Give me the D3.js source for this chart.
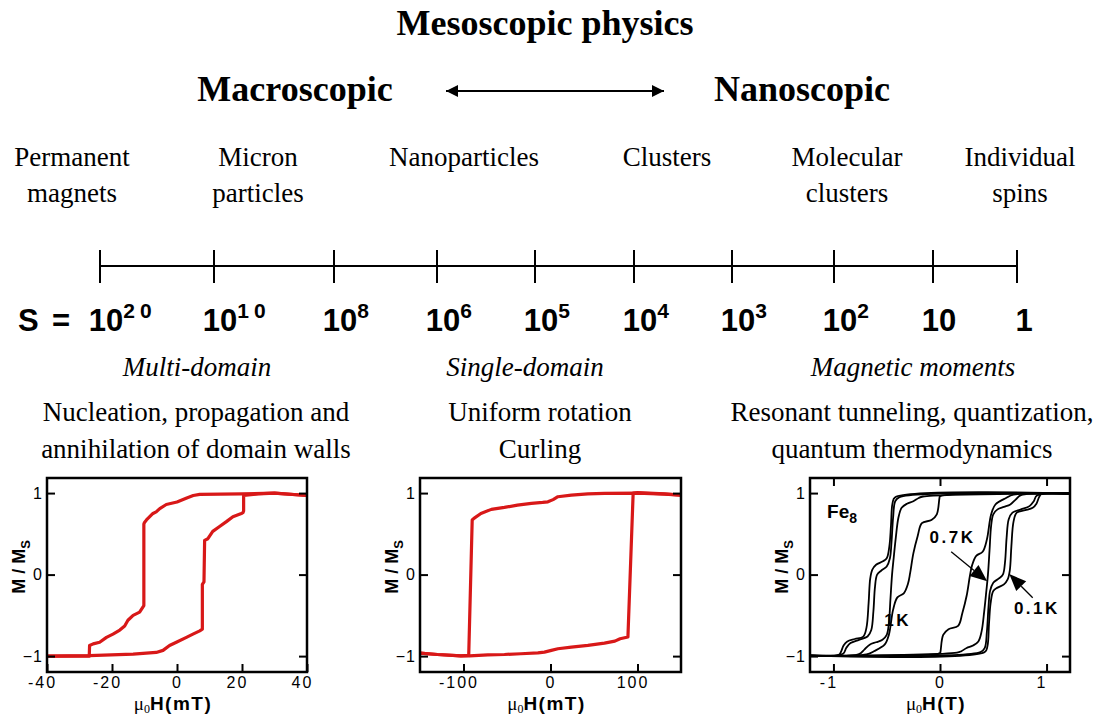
<!DOCTYPE html>
<html><head><meta charset="utf-8">
<script src="https://cdn.jsdelivr.net/npm/d3@7"></script>
<style>
body{margin:0;background:#fff;}
svg{display:block;}
</style></head><body>
<svg id="c" width="1101" height="716"></svg>
<script>
// ---------------- DATA ----------------
const titleText = "Mesoscopic physics";
const leftHeading = "Macroscopic";
const rightHeading = "Nanoscopic";
const systemLabels = [["Permanent","magnets"],["Micron","particles"],["Nanoparticles"],["Clusters"],["Molecular","clusters"],["Individual","spins"]];
const spinBase = ["10","10","10","10","10","10","10","10","10","1"];
const spinExp  = ["20","10","8","6","5","4","3","2","",""];
const regimeLabels = ["Multi-domain","Single-domain","Magnetic moments"];
const mechanismLines = [["Nucleation, propagation and","annihilation of domain walls"],["Uniform rotation","Curling"],["Resonant tunneling, quantization,","quantum thermodynamics"]];

// Panel 1: multi-domain loop (mu0H in mT, M/Ms)
const multiDown = [[40,0.97],[30,1.0],[20,0.99],[7,0.985],[5,0.97],[3,0.94],[0,0.89],[-3.3,0.86],[-5.3,0.81],[-6.4,0.77],[-7.4,0.75],[-8.4,0.71],[-9.4,0.67],[-10.0,0.64],[-10.2,0.62],[-10.2,-0.38],[-11.5,-0.46],[-13.5,-0.5],[-15.1,-0.56],[-16.1,-0.63],[-17.6,-0.68],[-19.7,-0.73],[-21.7,-0.77],[-23.8,-0.83],[-25.8,-0.85],[-26.9,-0.87],[-27.0,-1.0],[-34,-1.0],[-40,-1.0]];
const multiUp = [[-40,-1.0],[-27,-0.995],[-13.5,-0.975],[-6.4,-0.955],[-4.3,-0.93],[-2.3,-0.87],[-0.2,-0.83],[2.9,-0.77],[4.9,-0.73],[7,-0.69],[7.8,-0.67],[7.8,-0.12],[8.3,-0.09],[8.5,0.42],[9.5,0.44],[11,0.53],[13.1,0.59],[15.2,0.65],[17.2,0.71],[19.8,0.75],[20.3,0.76],[20.5,0.78],[20.5,0.97],[25,0.99],[30,1.0],[40,0.97]];

// Panel 2: single-domain loop (mT)
const singleDown = [[150,0.975],[131,0.988],[100,1.0],[62,0.996],[43,0.99],[24,0.975],[8.5,0.955],[3,0.92],[-3,0.893],[-9,0.885],[-22,0.873],[-38,0.852],[-53,0.824],[-68,0.8],[-80,0.75],[-88,0.69],[-90,0.67],[-94,-0.99],[-103,-0.996],[-130,-0.98],[-150,-0.963]];
const singleUp = [[-150,-0.963],[-130,-0.98],[-103,-0.996],[-93,-0.996],[-72,-0.984],[-53,-0.98],[-34,-0.971],[-14.5,-0.96],[-7,-0.951],[1,-0.93],[8.5,-0.91],[24,-0.889],[43,-0.869],[62,-0.84],[74,-0.816],[80,-0.787],[89,-0.766],[95,1.0],[100,1.005],[131,0.99],[150,0.975]];

// Panel 3: Fe8 loops (mu0H in T)
const fe8_1K_up = [[-1.22,-0.995],[0.0,-0.962],[0.005,-0.94],[0.03,-0.74],[0.08,-0.67],[0.17,-0.63],[0.21,-0.47],[0.25,-0.26],[0.28,-0.02],[0.30,0.11],[0.34,0.23],[0.40,0.28],[0.44,0.43],[0.48,0.74],[0.52,0.86],[0.62,0.94],[0.69,0.98],[1.22,0.995]];
const fe8_1K_down = [[1.22,0.995],[0.0,0.962],[-0.005,0.94],[-0.03,0.74],[-0.08,0.67],[-0.17,0.63],[-0.21,0.47],[-0.25,0.26],[-0.28,0.02],[-0.30,-0.11],[-0.34,-0.23],[-0.40,-0.28],[-0.44,-0.43],[-0.48,-0.74],[-0.52,-0.86],[-0.62,-0.94],[-0.69,-0.98],[-1.22,-0.995]];
const fe8_07K_up = [[-1.22,-0.995],[0.16,-0.958],[0.2,-0.94],[0.25,-0.9],[0.31,-0.87],[0.36,-0.82],[0.39,-0.7],[0.415,-0.45],[0.435,-0.2],[0.45,0.0],[0.465,0.3],[0.48,0.6],[0.5,0.74],[0.54,0.8],[0.6,0.83],[0.66,0.86],[0.71,0.92],[0.76,0.975],[1.22,0.995]];
const fe8_07K_down = [[1.22,0.995],[-0.16,0.958],[-0.2,0.94],[-0.25,0.9],[-0.31,0.87],[-0.36,0.82],[-0.39,0.7],[-0.415,0.45],[-0.435,0.2],[-0.45,0.0],[-0.465,-0.3],[-0.48,-0.6],[-0.5,-0.74],[-0.54,-0.8],[-0.6,-0.83],[-0.66,-0.86],[-0.71,-0.92],[-0.76,-0.975],[-1.22,-0.995]];
const fe8_mid_up = [[-1.22,-0.995],[0.38,-0.951],[0.42,-0.9],[0.44,-0.7],[0.455,-0.4],[0.47,-0.2],[0.5,-0.1],[0.55,-0.05],[0.59,0.0],[0.61,0.15],[0.625,0.45],[0.645,0.68],[0.68,0.76],[0.76,0.8],[0.84,0.84],[0.88,0.9],[0.91,0.97],[1.22,0.995]];
const fe8_mid_down = [[1.22,0.995],[-0.38,0.951],[-0.42,0.9],[-0.44,0.7],[-0.455,0.4],[-0.47,0.2],[-0.5,0.1],[-0.55,0.05],[-0.59,0.0],[-0.61,-0.15],[-0.625,-0.45],[-0.645,-0.68],[-0.68,-0.76],[-0.76,-0.8],[-0.84,-0.84],[-0.88,-0.9],[-0.91,-0.97],[-1.22,-0.995]];
const fe8_01K_up = [[-1.22,-0.995],[0.42,-0.95],[0.445,-0.88],[0.46,-0.6],[0.475,-0.35],[0.5,-0.2],[0.54,-0.16],[0.6,-0.12],[0.635,-0.06],[0.655,0.05],[0.67,0.35],[0.69,0.65],[0.72,0.76],[0.8,0.79],[0.87,0.82],[0.905,0.87],[0.93,0.95],[0.95,0.985],[1.22,0.995]];
const fe8_01K_down = [[1.22,0.995],[-0.42,0.95],[-0.445,0.88],[-0.46,0.6],[-0.475,0.35],[-0.5,0.2],[-0.54,0.16],[-0.6,0.12],[-0.635,0.06],[-0.655,-0.05],[-0.67,-0.35],[-0.69,-0.65],[-0.72,-0.76],[-0.8,-0.79],[-0.87,-0.82],[-0.905,-0.87],[-0.93,-0.95],[-0.95,-0.985],[-1.22,-0.995]];

const yTickValues = [-1,0,1];
const panel1XTicks = [-40,-20,0,20,40];
const panel2XTicks = [-100,0,100];
const panel3XTicks = [-1,0,1];

// ---------------- LAYOUT ----------------
const SERIF = "'Liberation Serif','Times New Roman',serif";
const SANS = "'Liberation Sans',Arial,Helvetica,sans-serif";
const svg = d3.select("#c");
const L = {
  systemX: [72,258,464,667,847,1020],
  spinTickX: [100,214,334,437,535,634,732,834,933,1017],
  regimeX: [197,525,913],
  mechX: [196,540,912],
  plotTop: 478, plotBottom: 672
};

// Title & headings
svg.append("text").attr("x",545).attr("y",35).attr("text-anchor","middle")
  .attr("font-family",SERIF).attr("font-weight","bold").attr("font-size",36).text(titleText);
svg.append("text").attr("x",295).attr("y",101).attr("text-anchor","middle")
  .attr("font-family",SERIF).attr("font-weight","bold").attr("font-size",36).text(leftHeading);
svg.append("text").attr("x",802).attr("y",101).attr("text-anchor","middle")
  .attr("font-family",SERIF).attr("font-weight","bold").attr("font-size",36).text(rightHeading);

// double arrow
const defs = svg.append("defs");
defs.append("marker").attr("id","ah").attr("viewBox","0 0 10 10").attr("refX",10).attr("refY",5)
  .attr("markerWidth",7).attr("markerHeight",6).attr("markerUnits","strokeWidth").attr("orient","auto-start-reverse")
  .append("path").attr("d","M0,0 L10,5 L0,10 z").attr("fill","#000");
svg.append("line").attr("x1",446).attr("x2",664).attr("y1",91).attr("y2",91)
  .attr("stroke","#000").attr("stroke-width",2).attr("marker-start","url(#ah)").attr("marker-end","url(#ah)");

// system labels
systemLabels.forEach((lines,i)=>{
  const t = svg.append("text").attr("text-anchor","middle").attr("font-family",SERIF).attr("font-size",27);
  lines.forEach((ln,j)=>t.append("tspan").attr("x",L.systemX[i]).attr("y",166+j*36).text(ln));
});

// spin-number scale
const sScale = d3.scaleOrdinal().domain(spinExp.map((e,i)=>i)).range(L.spinTickX);
svg.append("line").attr("x1",sScale(0)).attr("x2",sScale(9)).attr("y1",266).attr("y2",266).attr("stroke","#000").attr("stroke-width",2);
spinBase.forEach((b,i)=>{
  svg.append("line").attr("x1",sScale(i)).attr("x2",sScale(i)).attr("y1",250).attr("y2",283).attr("stroke","#000").attr("stroke-width",2);
});
svg.append("text").attr("x",18).attr("y",331).attr("font-family",SANS).attr("font-weight","bold").attr("font-size",31).text("S");
svg.append("text").attr("x",52).attr("y",331).attr("font-family",SANS).attr("font-weight","bold").attr("font-size",31).text("=");
spinBase.forEach((b,i)=>{
  const cx = sScale(i) + (b==="1" ? 7 : 6);
  const bt = svg.append("text").attr("x",cx).attr("y",331).attr("text-anchor","middle")
    .attr("font-family",SANS).attr("font-weight","bold").attr("font-size",31).text(b);
  const w = bt.node().getComputedTextLength();
  if (spinExp[i]) {
    svg.append("text").attr("x",cx + w/2).attr("y",318).attr("font-family",SANS).attr("font-weight","bold")
      .attr("font-size",21).attr("letter-spacing",spinExp[i].length>1?5:0).text(spinExp[i]);
  }
});

// regimes
regimeLabels.forEach((r,i)=>{
  svg.append("text").attr("x",L.regimeX[i]).attr("y",376).attr("text-anchor","middle")
    .attr("font-family",SERIF).attr("font-style","italic").attr("font-size",27).text(r);
});
mechanismLines.forEach((lines,i)=>{
  const t = svg.append("text").attr("text-anchor","middle").attr("font-family",SERIF).attr("font-size",27);
  lines.forEach((ln,j)=>t.append("tspan").attr("x",L.mechX[i]).attr("y",421+j*37).text(ln));
});

// ---------------- PANELS ----------------
const yDomain = [-1.195, 1.185];
function panel(p){
  const x = d3.scaleLinear().domain(p.xDomain).range([p.left,p.right]);
  const y = d3.scaleLinear().domain(yDomain).range([L.plotBottom,L.plotTop]);
  const g = svg.append("g");
  const cid = "clip"+p.id;
  defs.append("clipPath").attr("id",cid).append("rect").attr("x",p.left).attr("y",L.plotTop)
    .attr("width",p.right-p.left).attr("height",L.plotBottom-L.plotTop);
  const line = d3.line().x(d=>x(d[0])).y(d=>y(d[1])).curve(p.curve);
  const cg = g.append("g").attr("clip-path",`url(#${cid})`);
  p.series.forEach(s=>cg.append("path").attr("d",line(s)).attr("fill","none").attr("stroke",p.color)
    .attr("stroke-width",p.sw).attr("stroke-linejoin","round").attr("stroke-linecap","round"));

  // axes
  const xa = g.append("g").attr("transform",`translate(0,${L.plotBottom})`)
    .call(d3.axisBottom(x).tickValues(p.xTicks).tickSizeInner(-8).tickSizeOuter(0).tickPadding(5).tickFormat(d=>String(d)));
  xa.select(".domain").remove();
  xa.selectAll("line").attr("stroke-width",2);
  xa.selectAll("text").attr("font-family",SANS).attr("font-size",16).attr("letter-spacing",2).attr("fill","#000")
    .attr("dx",d=>d===0?0:-5);
  if (p.topTicks){
    const xt = g.append("g").attr("transform",`translate(0,${L.plotTop})`)
      .call(d3.axisTop(x).tickValues(p.xTicks).tickSizeInner(-8).tickSizeOuter(0).tickFormat(""));
    xt.select(".domain").remove(); xt.selectAll("line").attr("stroke-width",2);
  }
  const ya = g.append("g").attr("transform",`translate(${p.left},0)`)
    .call(d3.axisLeft(y).tickValues(yTickValues).tickSizeInner(-8).tickSizeOuter(0).tickPadding(4).tickFormat(d3.format("d")));
  ya.select(".domain").remove();
  ya.selectAll("line").attr("stroke-width",2);
  ya.selectAll("text").attr("font-family",SANS).attr("font-size",16).attr("letter-spacing",1).attr("fill","#000");
  const yr = g.append("g").attr("transform",`translate(${p.right},0)`)
    .call(d3.axisRight(y).tickValues(yTickValues).tickSizeInner(-8).tickSizeOuter(0).tickFormat(""));
  yr.select(".domain").remove(); yr.selectAll("line").attr("stroke-width",2);

  g.append("rect").attr("x",p.left).attr("y",L.plotTop).attr("width",p.right-p.left)
    .attr("height",L.plotBottom-L.plotTop).attr("fill","none").attr("stroke","#000").attr("stroke-width",2.5);

  // y label
  const yl = g.append("text").attr("transform",`translate(${p.left-22},${(L.plotTop+L.plotBottom)/2-8}) rotate(-90)`)
    .attr("text-anchor","middle").attr("font-family",SANS).attr("font-weight","bold").attr("font-size",18);
  yl.append("tspan").text("M / M");
  yl.append("tspan").attr("font-size",13).attr("dy",5).text("S");
  // x label
  const xl = g.append("text").attr("x",x(0)-4).attr("y",710).attr("text-anchor","middle").attr("font-size",19);
  xl.append("tspan").attr("font-family",SERIF).text("μ");
  xl.append("tspan").attr("font-family",SERIF).attr("font-size",12).attr("dy",3).text("0");
  xl.append("tspan").attr("font-family",SANS).attr("font-weight","bold").attr("dy",-3).attr("letter-spacing",1.5).text(p.xLabel);
  return {x,y,g};
}

panel({id:1,left:47,right:307,xDomain:[-40,40],xTicks:panel1XTicks,series:[multiDown,multiUp],
  color:"#d81818",sw:3.2,curve:d3.curveLinear,xLabel:"H(mT)"});
panel({id:2,left:420,right:681,xDomain:[-150,150],xTicks:panel2XTicks,series:[singleDown,singleUp],
  color:"#d81818",sw:3.2,curve:d3.curveLinear,xLabel:"H(mT)"});
const p3 = panel({id:3,left:810,right:1070,xDomain:[-1.22,1.22],xTicks:panel3XTicks,topTicks:true,
  series:[fe8_1K_up,fe8_1K_down,fe8_07K_up,fe8_07K_down,fe8_mid_up,fe8_mid_down,fe8_01K_up,fe8_01K_down],
  color:"#000",sw:1.8,curve:d3.curveCatmullRom.alpha(0.5),xLabel:"H(T)"});

// Fe8 annotations
const ann = p3.g;
const X = p3.x, Y = p3.y;
const fe = ann.append("text").attr("x",X(-1.06)).attr("y",Y(0.70)).attr("font-family",SANS).attr("font-weight","bold").attr("font-size",19);
fe.append("tspan").text("Fe");
fe.append("tspan").attr("font-size",14).attr("dy",5).text("8");
function tlabel(txt,h,m){
  ann.append("text").attr("x",X(h)).attr("y",Y(m)).attr("text-anchor","middle").attr("font-family",SANS)
    .attr("font-weight","bold").attr("font-size",17).attr("letter-spacing",2.5).text(txt);
}
tlabel("0.7K",0.117,0.39);
tlabel("0.1K",0.909,-0.487);
tlabel("1K",-0.398,-0.636);
function arrow(from,to){
  const x1=X(from[0]),y1=Y(from[1]),x2=X(to[0]),y2=Y(to[1]);
  const a=Math.atan2(y2-y1,x2-x1), len=17, hw=7;
  const bx=x2-len*Math.cos(a), by=y2-len*Math.sin(a);
  ann.append("line").attr("x1",x1).attr("y1",y1).attr("x2",bx).attr("y2",by).attr("stroke","#000").attr("stroke-width",1.3);
  ann.append("path").attr("d",`M${x2},${y2}L${bx+hw*Math.sin(a)},${by-hw*Math.cos(a)}L${bx-hw*Math.sin(a)},${by+hw*Math.cos(a)}Z`).attr("fill","#000");
}
arrow([0.105,0.28],[0.443,-0.082]);
arrow([0.87,-0.285],[0.65,0.006]);
</script>
</body></html>
